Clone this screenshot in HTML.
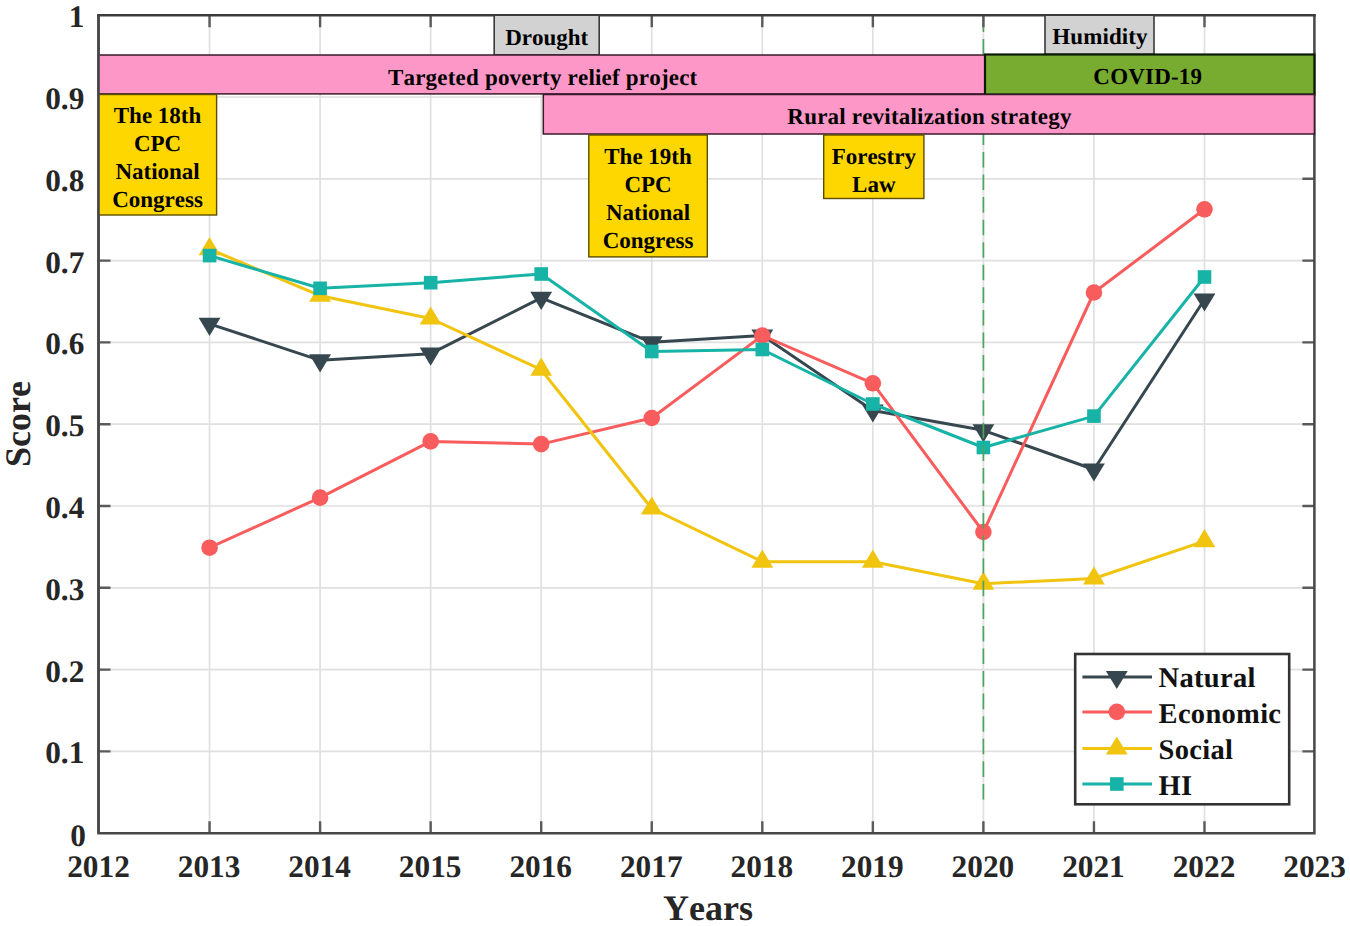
<!DOCTYPE html>
<html lang="en">
<head>
<meta charset="utf-8">
<title>Score by year</title>
<style>html,body{margin:0;padding:0;background:#fff}svg{display:block}text{font-kerning:none;text-rendering:geometricPrecision}</style>
</head>
<body>
<svg width="1350" height="926" viewBox="0 0 1350 926" font-family="'Liberation Serif', serif" font-weight="bold">
<rect x="0" y="0" width="1350" height="926" fill="#ffffff"/>
<path d="M209.55 15.2V833.2M320.1 15.2V833.2M430.65 15.2V833.2M541.2 15.2V833.2M651.75 15.2V833.2M762.3 15.2V833.2M872.85 15.2V833.2M983.4 15.2V833.2M1093.95 15.2V833.2M1204.5 15.2V833.2M98.5 751.4H1314.4M98.5 669.6H1314.4M98.5 587.8H1314.4M98.5 506H1314.4M98.5 424.2H1314.4M98.5 342.4H1314.4M98.5 260.6H1314.4M98.5 178.8H1314.4M98.5 97H1314.4" stroke="#e0e0e0" stroke-width="1.7" fill="none"/>
<polyline points="209.55,323.9 320.1,360.3 430.65,353.7 541.2,297.9 651.75,342.3 762.3,335.5 872.85,410.5 983.4,430.3 1093.95,469.5 1204.5,299.5" fill="none" stroke="#36474f" stroke-width="3.0" stroke-linejoin="round"/>
<path d="M198.65 317.8H220.45L209.55 336Z" fill="#36474f"/>
<path d="M309.2 354.2H331L320.1 372.4Z" fill="#36474f"/>
<path d="M419.75 347.6H441.55L430.65 365.8Z" fill="#36474f"/>
<path d="M530.3 291.8H552.1L541.2 310Z" fill="#36474f"/>
<path d="M640.85 336.2H662.65L651.75 354.4Z" fill="#36474f"/>
<path d="M751.4 329.4H773.2L762.3 347.6Z" fill="#36474f"/>
<path d="M861.95 404.4H883.75L872.85 422.6Z" fill="#36474f"/>
<path d="M972.5 424.2H994.3L983.4 442.4Z" fill="#36474f"/>
<path d="M1083.05 463.4H1104.85L1093.95 481.6Z" fill="#36474f"/>
<path d="M1193.6 293.4H1215.4L1204.5 311.6Z" fill="#36474f"/>
<polyline points="209.55,547.7 320.1,497.6 430.65,441.4 541.2,444.1 651.75,418 762.3,335.6 872.85,383.3 983.4,532 1093.95,292.5 1204.5,209.3" fill="none" stroke="#f95c5c" stroke-width="3.0" stroke-linejoin="round"/>
<circle cx="209.55" cy="547.7" r="8.3" fill="#f95c5c"/>
<circle cx="320.1" cy="497.6" r="8.3" fill="#f95c5c"/>
<circle cx="430.65" cy="441.4" r="8.3" fill="#f95c5c"/>
<circle cx="541.2" cy="444.1" r="8.3" fill="#f95c5c"/>
<circle cx="651.75" cy="418" r="8.3" fill="#f95c5c"/>
<circle cx="762.3" cy="335.6" r="8.3" fill="#f95c5c"/>
<circle cx="872.85" cy="383.3" r="8.3" fill="#f95c5c"/>
<circle cx="983.4" cy="532" r="8.3" fill="#f95c5c"/>
<circle cx="1093.95" cy="292.5" r="8.3" fill="#f95c5c"/>
<circle cx="1204.5" cy="209.3" r="8.3" fill="#f95c5c"/>
<polyline points="209.55,249.1 320.1,295.7 430.65,318.5 541.2,369.7 651.75,508.5 762.3,561.7 872.85,561.7 983.4,583.7 1093.95,578.5 1204.5,541.1" fill="none" stroke="#f1c40f" stroke-width="3.0" stroke-linejoin="round"/>
<path d="M198.65 255.2H220.45L209.55 237Z" fill="#f1c40f"/>
<path d="M309.2 301.8H331L320.1 283.6Z" fill="#f1c40f"/>
<path d="M419.75 324.6H441.55L430.65 306.4Z" fill="#f1c40f"/>
<path d="M530.3 375.8H552.1L541.2 357.6Z" fill="#f1c40f"/>
<path d="M640.85 514.6H662.65L651.75 496.4Z" fill="#f1c40f"/>
<path d="M751.4 567.8H773.2L762.3 549.6Z" fill="#f1c40f"/>
<path d="M861.95 567.8H883.75L872.85 549.6Z" fill="#f1c40f"/>
<path d="M972.5 589.8H994.3L983.4 571.6Z" fill="#f1c40f"/>
<path d="M1083.05 584.6H1104.85L1093.95 566.4Z" fill="#f1c40f"/>
<path d="M1193.6 547.2H1215.4L1204.5 529Z" fill="#f1c40f"/>
<polyline points="209.55,255.6 320.1,288.3 430.65,282.7 541.2,274 651.75,351.5 762.3,349.5 872.85,404 983.4,447.5 1093.95,416.1 1204.5,277" fill="none" stroke="#17b3a6" stroke-width="3.0" stroke-linejoin="round"/>
<rect x="202.75" y="248.8" width="13.6" height="13.6" fill="#17b3a6"/>
<rect x="313.3" y="281.5" width="13.6" height="13.6" fill="#17b3a6"/>
<rect x="423.85" y="275.9" width="13.6" height="13.6" fill="#17b3a6"/>
<rect x="534.4" y="267.2" width="13.6" height="13.6" fill="#17b3a6"/>
<rect x="644.95" y="344.7" width="13.6" height="13.6" fill="#17b3a6"/>
<rect x="755.5" y="342.7" width="13.6" height="13.6" fill="#17b3a6"/>
<rect x="866.05" y="397.2" width="13.6" height="13.6" fill="#17b3a6"/>
<rect x="976.6" y="440.7" width="13.6" height="13.6" fill="#17b3a6"/>
<rect x="1087.15" y="409.3" width="13.6" height="13.6" fill="#17b3a6"/>
<rect x="1197.7" y="270.2" width="13.6" height="13.6" fill="#17b3a6"/>
<line x1="983.4" y1="16.5" x2="983.4" y2="802" stroke="#4fa45c" stroke-width="1.7" stroke-dasharray="15.6 6.97"/>
<path d="M209.55 833.2v-12M209.55 15.2v12M320.1 833.2v-12M320.1 15.2v12M430.65 833.2v-12M430.65 15.2v12M541.2 833.2v-12M541.2 15.2v12M651.75 833.2v-12M651.75 15.2v12M762.3 833.2v-12M762.3 15.2v12M872.85 833.2v-12M872.85 15.2v12M983.4 833.2v-12M983.4 15.2v12M1093.95 833.2v-12M1093.95 15.2v12M1204.5 833.2v-12M1204.5 15.2v12M98.5 751.4h12M1314.4 751.4h-12M98.5 669.6h12M1314.4 669.6h-12M98.5 587.8h12M1314.4 587.8h-12M98.5 506h12M1314.4 506h-12M98.5 424.2h12M1314.4 424.2h-12M98.5 342.4h12M1314.4 342.4h-12M98.5 260.6h12M1314.4 260.6h-12M98.5 178.8h12M1314.4 178.8h-12M98.5 97h12M1314.4 97h-12" stroke="#5a5a5a" stroke-width="2.4" fill="none"/>
<path d="M98.5 15.2V833.2H1314.4V15.2" fill="none" stroke="#474747" stroke-width="2.5" stroke-linejoin="miter"/>
<path d="M97.1 15.2H1315.8" fill="none" stroke="#3c3c3c" stroke-width="2.4"/>
<rect x="494.2" y="15.2" width="105" height="39.8" fill="#d2d2d2" stroke="#3a3a3a" stroke-width="1.6"/>
<text x="546.7" y="45.2" font-size="23" text-anchor="middle" fill="#000">Drought</text>
<rect x="1045" y="15.2" width="109" height="39.1" fill="#d2d2d2" stroke="#3a3a3a" stroke-width="1.6"/>
<text x="1100" y="43.6" font-size="23" text-anchor="middle" fill="#000" letter-spacing="0.1">Humidity</text>
<rect x="98.5" y="55" width="886.5" height="38.9" fill="#fd97c8" stroke="#3a1a2a" stroke-width="1.5"/>
<text x="542.7" y="85" font-size="23" text-anchor="middle" fill="#000" letter-spacing="0.2">Targeted poverty relief project</text>
<rect x="985" y="54.5" width="329.4" height="40" fill="#77ac30" stroke="#0d1a05" stroke-width="2.2"/>
<text x="1147.8" y="84.2" font-size="23" text-anchor="middle" fill="#000" letter-spacing="0.2">COVID-19</text>
<rect x="543.3" y="94.5" width="771.1" height="39.5" fill="#fd97c8" stroke="#3a1a2a" stroke-width="1.5"/>
<text x="929.5" y="123.9" font-size="23" text-anchor="middle" fill="#000" letter-spacing="0.2">Rural revitalization strategy</text>
<rect x="98.5" y="94.5" width="118.1" height="120.5" fill="#ffd700" stroke="#5c4d00" stroke-width="1.4"/>
<text x="157.55" y="123" font-size="23" text-anchor="middle" fill="#000">The 18th</text>
<text x="157.55" y="151.1" font-size="23" text-anchor="middle" fill="#000">CPC</text>
<text x="157.55" y="179.2" font-size="23" text-anchor="middle" fill="#000">National</text>
<text x="157.55" y="207.3" font-size="23" text-anchor="middle" fill="#000">Congress</text>
<rect x="588.8" y="135" width="118.5" height="121.9" fill="#ffd700" stroke="#5c4d00" stroke-width="1.4"/>
<text x="648.05" y="163.6" font-size="23" text-anchor="middle" fill="#000">The 19th</text>
<text x="648.05" y="191.7" font-size="23" text-anchor="middle" fill="#000">CPC</text>
<text x="648.05" y="219.8" font-size="23" text-anchor="middle" fill="#000">National</text>
<text x="648.05" y="247.9" font-size="23" text-anchor="middle" fill="#000">Congress</text>
<rect x="823.7" y="135" width="100.2" height="63.5" fill="#ffd700" stroke="#5c4d00" stroke-width="1.4"/>
<text x="873.8" y="163.6" font-size="23" text-anchor="middle" fill="#000">Forestry</text>
<text x="873.8" y="191.7" font-size="23" text-anchor="middle" fill="#000">Law</text>
<path d="M98.5 15.2V833.2" stroke="#474747" stroke-width="2.5" fill="none"/>
<rect x="1075.2" y="654" width="214" height="150.3" fill="#fff" stroke="#333" stroke-width="2.6"/>
<line x1="1082.4" y1="677" x2="1152" y2="677" stroke="#36474f" stroke-width="3.0"/>
<path d="M1105.9 670.9H1127.7L1116.8 689.1Z" fill="#36474f"/>
<text x="1158.6" y="686.7" font-size="28.5" text-anchor="start" fill="#111" letter-spacing="0.3">Natural</text>
<line x1="1082.4" y1="711.9" x2="1152" y2="711.9" stroke="#f95c5c" stroke-width="3.0"/>
<circle cx="1116.8" cy="711.9" r="8.3" fill="#f95c5c"/>
<text x="1158.6" y="723.3" font-size="28.5" text-anchor="start" fill="#111" letter-spacing="0.3">Economic</text>
<line x1="1082.4" y1="748.5" x2="1152" y2="748.5" stroke="#f1c40f" stroke-width="3.0"/>
<path d="M1105.9 754.6H1127.7L1116.8 736.4Z" fill="#f1c40f"/>
<text x="1158.6" y="759.3" font-size="28.5" text-anchor="start" fill="#111" letter-spacing="0.3">Social</text>
<line x1="1082.4" y1="784" x2="1152" y2="784" stroke="#17b3a6" stroke-width="3.0"/>
<rect x="1110" y="777.2" width="13.6" height="13.6" fill="#17b3a6"/>
<text x="1158.6" y="795.4" font-size="28.5" text-anchor="start" fill="#111" letter-spacing="0.3">HI</text>
<text x="98.5" y="876.6" font-size="31.3" text-anchor="middle" fill="#262626">2012</text>
<text x="209.05" y="876.6" font-size="31.3" text-anchor="middle" fill="#262626">2013</text>
<text x="319.6" y="876.6" font-size="31.3" text-anchor="middle" fill="#262626">2014</text>
<text x="430.15" y="876.6" font-size="31.3" text-anchor="middle" fill="#262626">2015</text>
<text x="540.7" y="876.6" font-size="31.3" text-anchor="middle" fill="#262626">2016</text>
<text x="651.25" y="876.6" font-size="31.3" text-anchor="middle" fill="#262626">2017</text>
<text x="761.8" y="876.6" font-size="31.3" text-anchor="middle" fill="#262626">2018</text>
<text x="872.35" y="876.6" font-size="31.3" text-anchor="middle" fill="#262626">2019</text>
<text x="982.9" y="876.6" font-size="31.3" text-anchor="middle" fill="#262626">2020</text>
<text x="1093.45" y="876.6" font-size="31.3" text-anchor="middle" fill="#262626">2021</text>
<text x="1204" y="876.6" font-size="31.3" text-anchor="middle" fill="#262626">2022</text>
<text x="1314.55" y="876.6" font-size="31.3" text-anchor="middle" fill="#262626">2023</text>
<text x="85.8" y="846.2" font-size="31.3" text-anchor="end" fill="#262626">0</text>
<text x="84.3" y="763.4" font-size="31.3" text-anchor="end" fill="#262626">0.1</text>
<text x="84.3" y="681.6" font-size="31.3" text-anchor="end" fill="#262626">0.2</text>
<text x="84.3" y="599.8" font-size="31.3" text-anchor="end" fill="#262626">0.3</text>
<text x="84.3" y="518" font-size="31.3" text-anchor="end" fill="#262626">0.4</text>
<text x="84.3" y="436.2" font-size="31.3" text-anchor="end" fill="#262626">0.5</text>
<text x="84.3" y="354.4" font-size="31.3" text-anchor="end" fill="#262626">0.6</text>
<text x="84.3" y="272.6" font-size="31.3" text-anchor="end" fill="#262626">0.7</text>
<text x="84.3" y="190.8" font-size="31.3" text-anchor="end" fill="#262626">0.8</text>
<text x="84.3" y="109" font-size="31.3" text-anchor="end" fill="#262626">0.9</text>
<text x="84.3" y="27.2" font-size="31.3" text-anchor="end" fill="#262626">1</text>
<text x="708.1" y="919.5" font-size="36" text-anchor="middle" fill="#262626">Years</text>
<text transform="translate(30.2 424) rotate(-90)" font-size="36" text-anchor="middle" fill="#262626">Score</text>
</svg>
</body>
</html>
